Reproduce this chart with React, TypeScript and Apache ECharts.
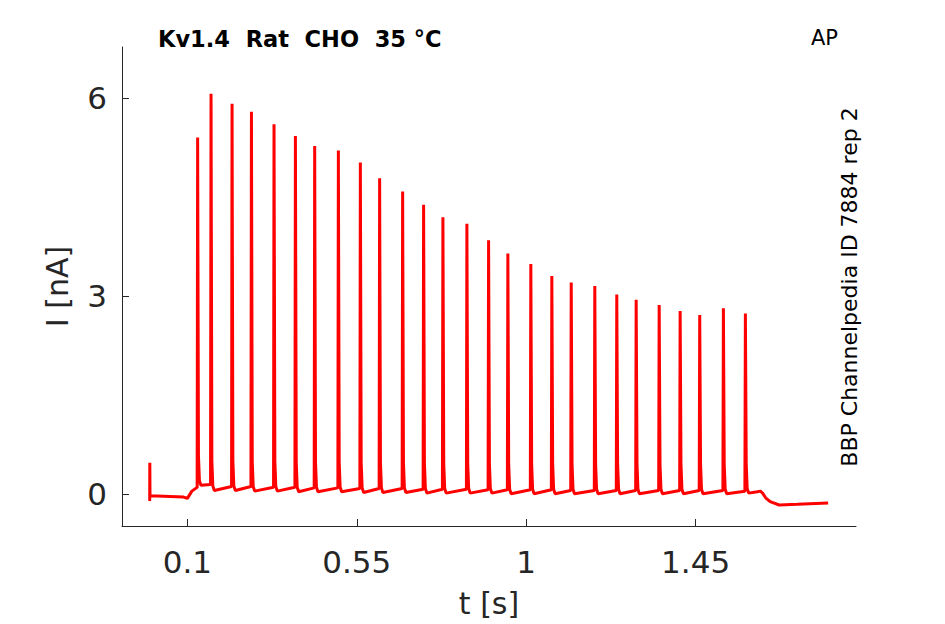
import React, { useEffect, useRef } from "react";
import * as echarts from "echarts";

const xTicks = [0.1, 0.55, 1, 1.45];
const yTicks = [0, 3, 6];

const spikeTimes = [
  0.127, 0.1626, 0.2184, 0.2699, 0.3299, 0.3867, 0.4379, 0.5008, 0.5592, 0.6104,
  0.6715, 0.7272, 0.7785, 0.8422, 0.8998, 0.951, 1.012, 1.0678, 1.1193, 1.1819,
  1.2403, 1.2918, 1.3529, 1.4086, 1.4606, 1.5235, 1.5819,
];
const spikePeaks = [
  5.41, 6.07, 5.92, 5.8, 5.61, 5.43, 5.28, 5.21, 5.03, 4.79, 4.59, 4.39, 4.2, 4.1,
  3.85, 3.65, 3.49, 3.31, 3.21, 3.16, 3.03, 2.95, 2.87, 2.78, 2.72, 2.82, 2.74,
];
const preLevels = [
  0.1, 0.15, 0.12, 0.12, 0.11, 0.11, 0.1, 0.1, 0.09, 0.09, 0.09, 0.08, 0.08, 0.08,
  0.07, 0.07, 0.07, 0.07, 0.06, 0.06, 0.06, 0.06, 0.06, 0.06, 0.06, 0.06, 0.05,
];
const postLevels = [
  0.14, 0.06, 0.06, 0.05, 0.05, 0.04, 0.04, 0.04, 0.03, 0.03, 0.03, 0.02, 0.02, 0.02,
  0.02, 0.01, 0.01, 0.01, 0.01, 0.01, 0.01, 0.01, 0.01, 0.01, 0.01, 0.01, 0.02,
];
// spike waveform: time offsets and the value reached there
const spikeShapeOffsets = [0.0025, 0.005];
const spikeShapeValues = [0.45, 0.07];

const leadTimes = [0, 0.0003, 0.0008, 0.09, 0.1, 0.112, 0.124];
const leadValues = [-0.1, 0.48, -0.02, -0.04, -0.06, 0.05, 0.1];

const tailTimes = [1.614, 1.622, 1.628, 1.636, 1.648, 1.672, 1.72, 1.802];
const tailValues = [0.04, 0.05, 0.02, -0.05, -0.11, -0.16, -0.15, -0.13];

function buildTrace(): number[][] {
  const pts: number[][] = [];
  leadTimes.forEach((t, i) => pts.push([t, leadValues[i]]));
  spikeTimes.forEach((t, i) => {
    pts.push([t - 0.001, preLevels[i]]);
    pts.push([t + 0.0003, spikePeaks[i]]);
    spikeShapeOffsets.forEach((o, k) => pts.push([t + o, spikeShapeValues[k] + postLevels[i]]));
    pts.push([t + 0.009, postLevels[i]]);
  });
  tailTimes.forEach((t, i) => pts.push([t, tailValues[i]]));
  return pts;
}

const FONT = "DejaVu Sans";
const INK = "#262626";

export default function App() {
  const ref = useRef<HTMLDivElement>(null);
  useEffect(() => {
    const chart = echarts.init(ref.current!, null, { renderer: "svg" });
    chart.setOption({
      animation: false,
      backgroundColor: "#ffffff",
      grid: { left: 122, right: 89, top: 47, bottom: 98, containLabel: false },
      xAxis: {
        type: "value",
        min: -0.0736,
        max: 1.876,
        axisLine: { show: true, onZero: false, lineStyle: { color: INK, width: 1 } },
        axisTick: { show: true, inside: true, length: 7, customValues: xTicks, lineStyle: { color: INK } },
        axisLabel: {
          customValues: xTicks,
          fontSize: 31,
          fontFamily: FONT,
          color: INK,
          margin: 20,
          formatter: (v: number) => String(v),
        },
        splitLine: { show: false },
        name: "t [s]",
        nameLocation: "middle",
        nameGap: 62,
        nameTextStyle: { fontSize: 30, fontFamily: FONT, color: INK },
      },
      yAxis: {
        type: "value",
        min: -0.478,
        max: 6.78,
        axisLine: { show: true, onZero: false, lineStyle: { color: INK, width: 1 } },
        axisTick: { show: true, inside: true, length: 7, customValues: yTicks, lineStyle: { color: INK } },
        axisLabel: {
          customValues: yTicks,
          fontSize: 31,
          fontFamily: FONT,
          color: INK,
          margin: 15,
          formatter: (v: number) => String(v),
        },
        splitLine: { show: false },
        name: "I [nA]",
        nameLocation: "middle",
        nameGap: 50,
        nameTextStyle: { fontSize: 30, fontFamily: FONT, color: INK },
      },
      graphic: [
        {
          type: "text",
          left: 158,
          top: 27,
          style: { text: "Kv1.4  Rat  CHO  35 °C", fontSize: 22.5, fontWeight: "bold", fontFamily: FONT, fill: "#000" },
        },
        {
          type: "text",
          left: 811,
          top: 27,
          style: { text: "AP", fontSize: 21, fontFamily: FONT, fill: "#000" },
        },
        {
          type: "text",
          x: 849,
          y: 287,
          rotation: Math.PI / 2,
          style: {
            text: "BBP Channelpedia ID 7884 rep 2",
            fontSize: 22,
            fontFamily: FONT,
            fill: "#000",
            align: "center",
            verticalAlign: "middle",
          },
        },
      ],
      series: [
        {
          type: "line",
          data: buildTrace(),
          showSymbol: false,
          lineStyle: { color: "#ff0000", width: 3 },
          itemStyle: { color: "#ff0000" },
          silent: true,
        },
      ],
    });
    return () => chart.dispose();
  }, []);
  return (
    <div
      ref={ref}
      style={{ position: "fixed", left: 0, top: 0, width: 945, height: 624, background: "#fff" }}
    />
  );
}
